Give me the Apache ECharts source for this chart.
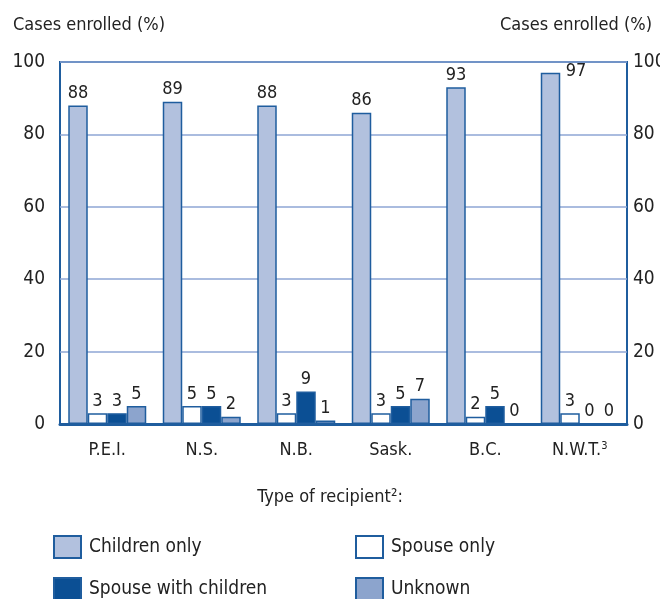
<!DOCTYPE html>
<html>
<head>
<meta charset="utf-8">
<script src="https://cdn.jsdelivr.net/npm/echarts@6/dist/echarts.min.js"></script>
<style>
    html, body { margin: 0; padding: 0; background: #fff; }
    #chart { width: 660px; height: 599px; }
</style>
</head>
<body>
<div id="chart"></div>
<script>
    // data
    var provinces = ['P.E.I.', 'N.S.', 'N.B.', 'Sask.', 'B.C.', 'N.W.T.'];
    var childrenOnly = [88, 89, 88, 86, 93, 97];
    var spouseOnly = [3, 5, 3, 3, 2, 3];
    var spouseWithChildren = [3, 5, 9, 5, 5, 0];
    var unknown = [5, 2, 1, 7, 0, 0];
    var yTicks = [0, 20, 40, 60, 80, 100];

    var font = '"Liberation Sans Narrow", "DejaVu Sans Condensed", "Roboto", sans-serif';
    var edge = '#1f5d9e';
    var txt = '#222';

    var chart = echarts.init(document.getElementById('chart'));

    function labelCfg() {
        return {
            show: true,
            position: 'top',
            distance: 3,
            color: txt,
            fontFamily: font,
            fontSize: 18
        };
    }

    function bar(name, values, fill) {
        return {
            name: name,
            type: 'bar',
            data: values,
            barWidth: 19.5,
            barGap: '0%',
            itemStyle: { color: fill, borderColor: edge, borderWidth: 1.5 },
            label: labelCfg(),
            z: 3
        };
    }

    var childrenData = childrenOnly.map(function (v, i) {
        // last label sits on the right of the bar in the reference
        if (i === childrenOnly.length - 1) {
            return { value: v, label: { position: [25, -11] } };
        }
        return v;
    });

    // one legend per item so the 2x2 layout is exact
    function legendAt(name, left, top) {
        return {
            left: left, top: top, icon: 'rect', itemWidth: 27, itemHeight: 22,
            data: [name],
            itemStyle: { borderColor: edge, borderWidth: 2 },
            textStyle: { fontFamily: font, fontSize: 19, color: txt, padding: [0, 0, 0, 3] }
        };
    }

    chart.setOption({
        animation: false,
        textStyle: { fontFamily: font },
        grid: {
            left: 60, right: 33, top: 62, bottom: 175,
            outerBoundsMode: 'none',
            containLabel: false,
            show: true, borderColor: edge, borderWidth: 2
        },
        title: [
            { text: 'Cases enrolled (%)', left: 8, top: 11, textStyle: { fontFamily: font, fontSize: 18, fontWeight: 'normal', color: txt } },
            { text: 'Cases enrolled (%)', left: 495, top: 11, textStyle: { fontFamily: font, fontSize: 18, fontWeight: 'normal', color: txt } },
            { text: 'Type of recipient\u00B2:', left: 'center', top: 483, textStyle: { fontFamily: font, fontSize: 18, fontWeight: 'normal', color: txt } }
        ],
        legend: [
            legendAt('Children only', 48, 530),
            legendAt('Spouse with children', 48, 572),
            legendAt('Spouse only', 350, 530),
            legendAt('Unknown', 350, 572)
        ],
        xAxis: {
            type: 'category',
            data: provinces,
            axisLine: { lineStyle: { color: edge, width: 3 } },
            axisTick: { show: false },
            axisLabel: {
                interval: 0,
                margin: 17,
                color: txt,
                fontSize: 18,
                fontFamily: font,
                formatter: function (v) {
                    return v === 'N.W.T.' ? v + '{sup|3}' : v;
                },
                rich: {
                    sup: { fontSize: 11, verticalAlign: 'top', padding: [0, 0, 8, 0], color: txt, fontFamily: font }
                }
            },
            z: 5
        },
        yAxis: [
            {
                type: 'value', min: yTicks[0], max: yTicks[yTicks.length - 1], interval: 20,
                axisLine: { show: false }, axisTick: { show: false },
                axisLabel: { color: txt, fontSize: 19, fontFamily: font, margin: 15 },
                splitLine: { lineStyle: { color: '#8ea6d4', width: 1.5 } }
            },
            {
                type: 'value', min: yTicks[0], max: yTicks[yTicks.length - 1], interval: 20,
                position: 'right',
                axisLine: { show: false }, axisTick: { show: false },
                axisLabel: { color: txt, fontSize: 19, fontFamily: font, margin: 6 },
                splitLine: { show: false }
            }
        ],
        series: [
            bar('Children only', childrenData, '#b2c1de'),
            bar('Spouse only', spouseOnly, '#ffffff'),
            bar('Spouse with children', spouseWithChildren, '#0b4f94'),
            bar('Unknown', unknown, '#8ca4cd')
        ]
    });
</script>
</body>
</html>
